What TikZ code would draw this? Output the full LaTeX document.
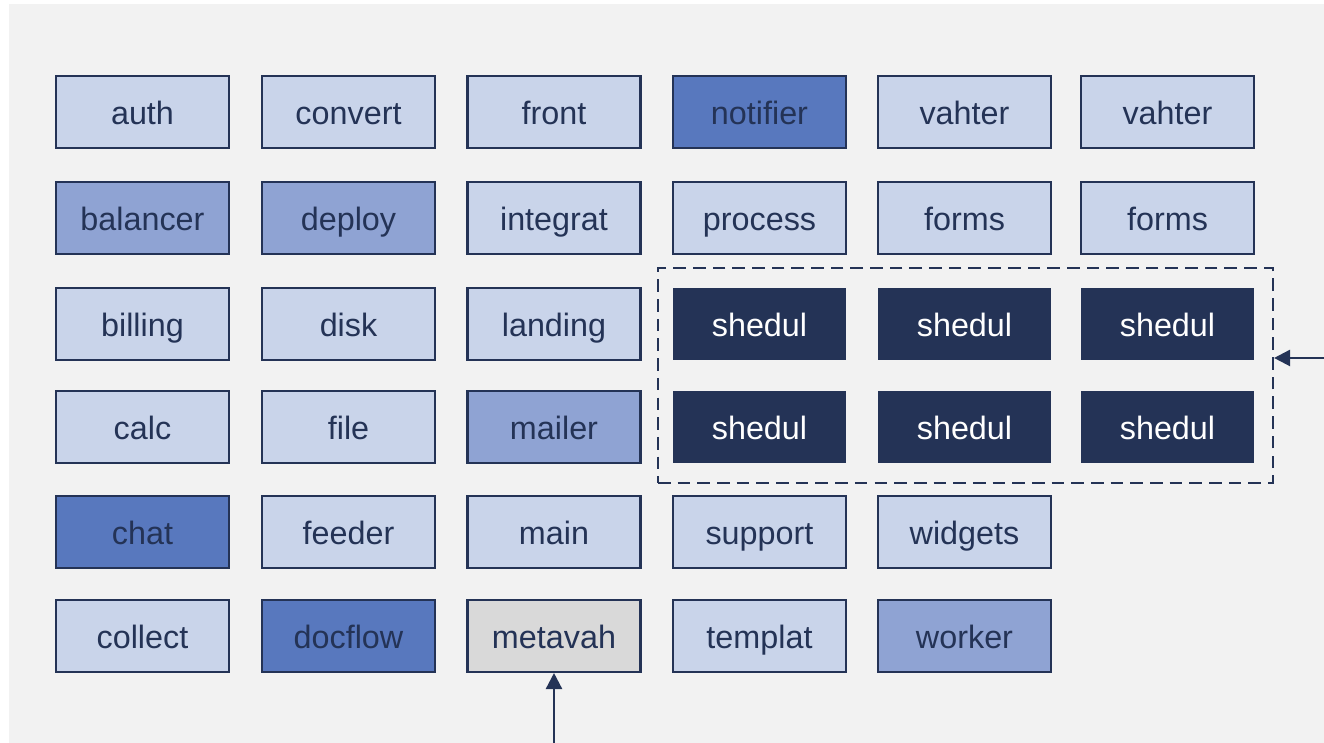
\documentclass[tikz,border=0pt]{standalone}
\usepackage{fontspec}
\setmainfont{Liberation Sans}
\usetikzlibrary{arrows.meta}
\definecolor{ink}{HTML}{243356}
\definecolor{paper}{HTML}{F2F2F2}
\definecolor{pale}{HTML}{C9D4EA}
\definecolor{mid}{HTML}{8FA3D3}
\definecolor{strong}{HTML}{5878BE}
\definecolor{greybox}{HTML}{D9D9D9}

\begin{document}
\begin{tikzpicture}[
    svc/.style={draw=ink, line width=0.6pt, fill=pale, text=ink,
      minimum width=1.73cm, minimum height=0.72cm, inner sep=0pt,
      text height=7.4pt, text depth=0pt,
      font=\fontsize{9.2}{11}\selectfont},
    svcmid/.style={svc, fill=mid},
    svcstrong/.style={svc, fill=strong},
    svcgrey/.style={svc, fill=greybox},
    shed/.style={svc, draw=none, fill=ink, text=white},
    group/.style={draw=ink, line width=0.6pt, dash pattern=on 3.6pt off 2pt,
      minimum width=6.15cm, minimum height=2.15cm, inner sep=0pt},
    feed/.style={draw=ink, line width=0.7pt, -{Triangle[length=4.6pt,width=4.6pt]}}
  ]
  % Canvas
  \useasboundingbox (0,0) rectangle (13.24,7.43);
  \fill[paper] (0.09,0) rectangle (13.24,7.39);
  % Row 1
  \node[svc] (auth) at (1.425,6.31) {auth};
  \node[svc] (convert) at (3.485,6.31) {convert};
  \node[svc] (front) at (5.54,6.31) {front};
  \node[svcstrong] (notifier) at (7.595,6.31) {notifier};
  \node[svc] (vahterA) at (9.645,6.31) {vahter};
  \node[svc] (vahterB) at (11.675,6.31) {vahter};
  % Row 2
  \node[svcmid] (balancer) at (1.425,5.25) {balancer};
  \node[svcmid] (deploy) at (3.485,5.25) {deploy};
  \node[svc] (integrat) at (5.54,5.25) {integrat};
  \node[svc] (process) at (7.595,5.25) {process};
  \node[svc] (formsA) at (9.645,5.25) {forms};
  \node[svc] (formsB) at (11.675,5.25) {forms};
  % Row 3
  \node[svc] (billing) at (1.425,4.19) {billing};
  \node[svc] (disk) at (3.485,4.19) {disk};
  \node[svc] (landing) at (5.54,4.19) {landing};
  % Row 4
  \node[svc] (calc) at (1.425,3.16) {calc};
  \node[svc] (file) at (3.485,3.16) {file};
  \node[svcmid] (mailer) at (5.54,3.16) {mailer};
  % Shedul block
  \foreach \col/\x in {A/7.595, B/9.645, C/11.675} {
    \node[shed] (shedulTop\col) at (\x,4.19) {shedul};
    \node[shed] (shedulBot\col) at (\x,3.16) {shedul};
  }
  \node[group] (shedgroup) at (9.655,3.675) {};
  % Row 5
  \node[svcstrong] (chat) at (1.425,2.11) {chat};
  \node[svc] (feeder) at (3.485,2.11) {feeder};
  \node[svc] (main) at (5.54,2.11) {main};
  \node[svc] (support) at (7.595,2.11) {support};
  \node[svc] (widgets) at (9.645,2.11) {widgets};
  % Row 6
  \node[svc] (collect) at (1.425,1.07) {collect};
  \node[svcstrong] (docflow) at (3.485,1.07) {docflow};
  \node[svcgrey] (metavah) at (5.54,1.07) {metavah};
  \node[svc] (templat) at (7.595,1.07) {templat};
  \node[svcmid] (worker) at (9.645,1.07) {worker};
  % Incoming arrows
  \coordinate (inRight) at (13.24,3.85);
  \coordinate (inBottom) at (5.54,0);
  \draw[feed] (inRight) -- (inRight -| shedgroup.east);
  \draw[feed] (inBottom) -- (metavah.south);
\end{tikzpicture}
\end{document}
